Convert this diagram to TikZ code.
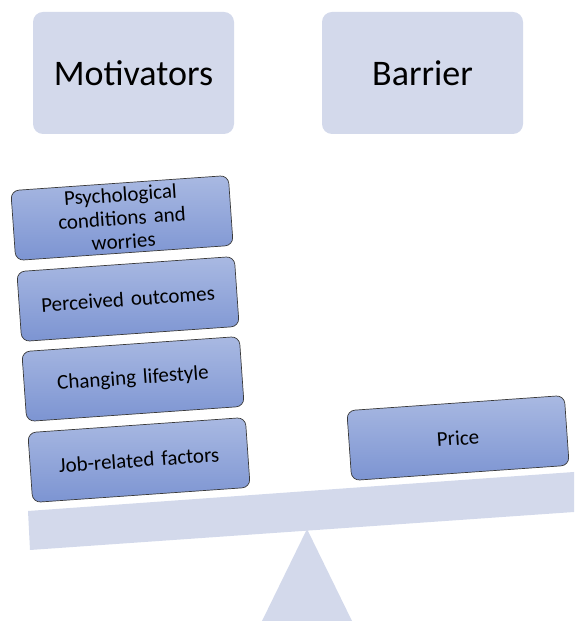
\documentclass[tikz,border=0pt]{standalone}
\usepackage{fontspec}
\setmainfont{Carlito}
\definecolor{pale}{HTML}{D3D9EB}
\definecolor{gtop}{HTML}{A9B9E2}
\definecolor{gbot}{HTML}{7C94D2}
\definecolor{edge}{HTML}{3A3A3A}
\begin{document}
\begin{tikzpicture}[x=1pt,y=1pt,
  topbox/.style={fill=pale, rounded corners=10pt, minimum width=201pt, minimum height=122pt, inner sep=0pt, font=\fontsize{36}{40}\selectfont},
  factor/.style={draw=edge, line width=0.7pt, top color=gtop, bottom color=gbot, rounded corners=8pt, minimum width=218pt, minimum height=70pt, inner sep=2pt, align=center, text width=200pt, font=\fontsize{21}{23.5}\selectfont, rotate=4}]
\useasboundingbox (0,0) rectangle (574,621);
% fulcrum and beam
\fill[pale] (262,0) -- (352,0) -- (307,92) -- cycle;
\fill[pale] (28,110) -- (574,149) -- (574,109) -- (30,71) -- cycle;
% headings
\node[topbox] (mot) at (133.5,548) {Motivators};
\node[topbox] (bar) at (422.5,548) {Barrier};
% factors
\node[factor] (psy) at (122,403) {Psychological\\conditions and\\worries};
\node[factor] (per) at (128,322) {Perceived outcomes};
\node[factor] (cha) at (133,242) {Changing lifestyle};
\node[factor] (job) at (139,161) {Job-related factors};
\node[factor] (pri) at (458,183) {Price};
\end{tikzpicture}
\end{document}
